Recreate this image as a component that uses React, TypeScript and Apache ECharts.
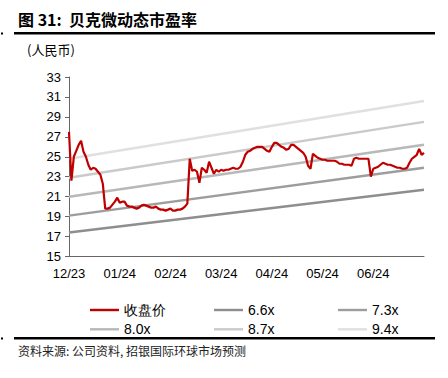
import React, { useEffect, useRef } from "react";
import * as echarts from "echarts";

const monthLabels = ["12/23", "01/24", "02/24", "03/24", "04/24", "05/24", "06/24"];
const labelStep = 21;

const closePrice = [
  27.5, 22.6, 25.0, 25.6, 26.2, 26.6, 25.5, 25.0, 24.2, 23.7,
  23.9, 23.8, 23.5, 23.2, 22.3, 19.8, 19.8, 19.9, 20.2, 20.5,
  20.9, 20.4, 20.5, 20.5, 20.1, 20.0, 20.0, 19.9, 19.8, 19.9,
  20.1, 20.2, 20.1, 20.0, 19.9, 19.9, 20.0, 19.8, 19.7, 19.7,
  19.6, 19.7, 19.8, 19.6, 19.6, 19.7, 19.7, 19.8, 20.0, 20.3,
  24.8, 23.6, 23.7, 23.5, 22.4, 23.9, 23.7, 23.4, 24.5, 23.9,
  23.3, 23.7, 23.5, 23.7, 23.6, 23.7, 23.7, 23.8, 23.9, 23.8,
  23.8, 24.0, 24.5, 25.2, 25.5, 25.6, 25.8, 25.9, 26.0, 26.0,
  26.0, 25.8, 25.6, 25.5, 26.0, 26.4, 26.4, 26.2, 26.0, 25.9,
  25.7, 25.8, 26.2, 26.2, 26.0, 25.8, 25.6, 25.4, 25.0, 24.1,
  23.8, 25.3, 25.1, 24.9, 24.8, 24.7, 24.7, 24.6, 24.6, 24.6,
  24.6, 24.5, 24.3, 24.3, 24.2, 24.2, 24.2, 24.1, 24.8, 24.9,
  24.8, 24.8, 24.8, 24.8, 24.8, 23.0, 23.8, 23.9, 24.0, 24.2,
  24.4, 24.3, 24.2, 24.2, 24.1, 24.0, 23.9, 23.9, 23.8, 23.8,
  23.9, 24.4, 24.8, 25.0, 25.2, 25.8, 25.2, 25.4,
];

const bandNames = ["6.6x", "7.3x", "8.0x", "8.7x", "9.4x"];
const bandStart = [17.4, 19.1, 21.0, 22.9, 24.8];
const bandEnd = [21.7, 23.9, 26.2, 28.5, 30.6];
const bandColors = ["#8e8e8e", "#9d9d9d", "#b8b8b8", "#cacaca", "#e0e0e0"];

const yTicks = { min: 15, max: 33, interval: 2 };

export default function App() {
  const ref = useRef<HTMLDivElement>(null);
  useEffect(() => {
    if (!ref.current) return;
    const chart = echarts.init(ref.current, null, { renderer: "svg" });
    const n = closePrice.length;
    const cats = closePrice.map((_, i) => String(i));
    const font = "Liberation Sans, Arial, sans-serif";
    const cjk = "'Noto Sans CJK SC', sans-serif";

    const bandSeries = bandNames.map((name, k) => {
      const d: (number | null)[] = new Array(n).fill(null);
      d[0] = bandStart[k];
      d[n - 1] = bandEnd[k];
      return {
        name,
        type: "line",
        data: d,
        connectNulls: true,
        symbol: "none",
        lineStyle: { color: bandColors[k], width: 2.5 },
        itemStyle: { color: bandColors[k] },
        z: 2,
      };
    });

    const legendCommon = {
      orient: "vertical" as const,
      top: 298,
      itemWidth: 29,
      itemHeight: 14,
      itemGap: 5.3,
      icon: "path://M0,0 L30,0 L30,2.5 L0,2.5 Z",
      textStyle: { fontSize: 14, color: "#000", fontFamily: font },
    };

    chart.setOption({
      animation: false,
      grid: { left: 69, right: 24, top: 77, bottom: 121.5 },
      legend: [
        { ...legendCommon, left: 85, data: ["收盘价", "8.0x"] },
        { ...legendCommon, left: 209, data: ["6.6x", "8.7x"] },
        { ...legendCommon, left: 333, data: ["7.3x", "9.4x"] },
      ],
      xAxis: {
        type: "category",
        data: cats,
        boundaryGap: false,
        axisLine: { lineStyle: { color: "#666", width: 1 } },
        axisTick: { show: false },
        axisLabel: {
          interval: labelStep - 1,
          color: "#000",
          fontSize: 13,
          fontFamily: font,
          margin: 10,
          formatter: (v: string) => {
            const i = Number(v);
            return i % labelStep === 0 && monthLabels[i / labelStep] ? monthLabels[i / labelStep] : "";
          },
        },
        splitLine: { show: false },
      },
      yAxis: {
        type: "value",
        min: yTicks.min,
        max: yTicks.max,
        interval: yTicks.interval,
        axisLine: { show: true, lineStyle: { color: "#666", width: 1 } },
        axisTick: { show: true, length: 4, lineStyle: { color: "#666" } },
        axisLabel: { color: "#000", fontSize: 13, fontFamily: font, margin: 8 },
        splitLine: { show: false },
      },
      series: [
        {
          name: "收盘价",
          type: "line",
          data: closePrice,
          symbol: "none",
          lineStyle: { color: "#c00000", width: 2.2 },
          itemStyle: { color: "#c00000" },
          z: 5,
        },
        ...bandSeries,
      ],
      graphic: [
        {
          type: "text",
          left: 18,
          top: 11,
          style: {
            text: "图 31:  贝克微动态市盈率",
            fontSize: 16,
            fontWeight: "bold",
            fill: "#000",
            fontFamily: cjk,
          },
        },
        { type: "rect", shape: { x: 14, y: 32, width: 421, height: 2.5 }, style: { fill: "#000" } },
        { type: "rect", shape: { x: 1, y: 32.5, width: 2, height: 2 }, style: { fill: "#000" } },
        {
          type: "text",
          left: 27,
          top: 43,
          style: { text: "(人民币)", fontSize: 13, fill: "#000", fontFamily: cjk },
        },
        { type: "rect", shape: { x: 14, y: 337, width: 421, height: 2.5 }, style: { fill: "#000" } },
        { type: "rect", shape: { x: 1, y: 337.5, width: 2, height: 2 }, style: { fill: "#000" } },
        {
          type: "text",
          left: 18,
          top: 344,
          style: {
            text: "资料来源: 公司资料, 招银国际环球市场预测",
            fontSize: 12,
            fill: "#222",
            fontFamily: cjk,
          },
        },
      ],
    });
    return () => chart.dispose();
  }, []);
  return <div ref={ref} style={{ width: 448, height: 378, position: "absolute", left: 0, top: 0 }} />;
}
